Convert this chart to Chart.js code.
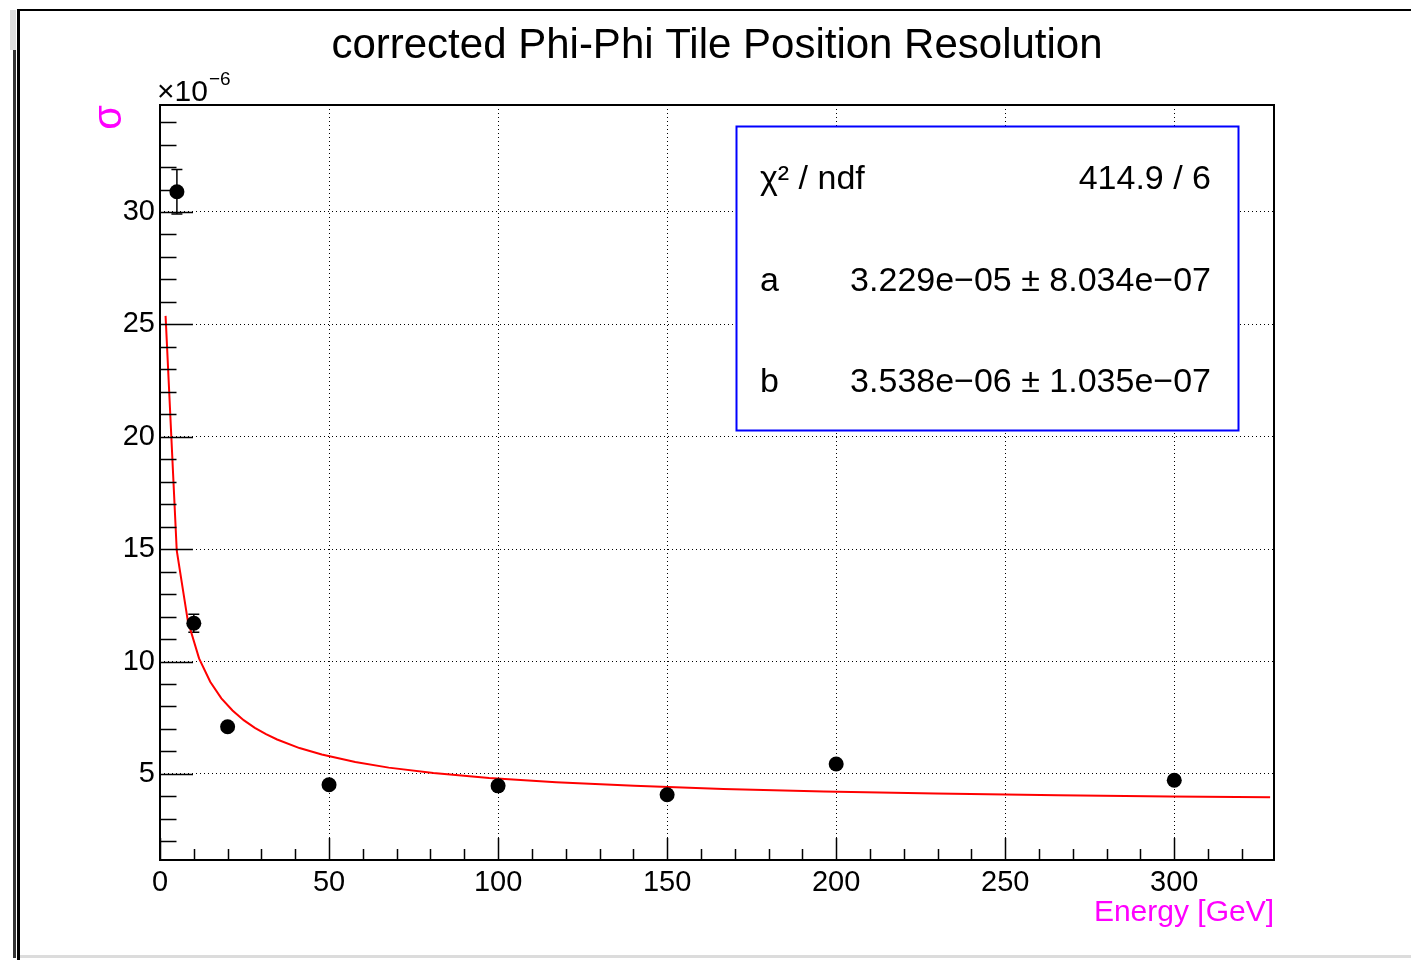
<!DOCTYPE html>
<html><head><meta charset="utf-8">
<script src="https://cdn.jsdelivr.net/npm/chart.js@4.4.1/dist/chart.umd.min.js"></script>
<style>html,body{margin:0;padding:0;background:#fff;overflow:hidden}</style>
</head><body>
<canvas id="c" width="1411" height="960" style="display:block;width:1411px;height:960px"></canvas>
<script>
// ---- data (sigma in units of 1e-6) ----
const energies = [5, 10, 20, 50, 100, 150, 200, 300];
const sigmaValues = [30.9, 11.7, 7.1, 4.52, 4.47, 4.07, 5.44, 4.72];
const sigmaErrors = [0.99, 0.4, 0.12, 0.1, 0.1, 0.1, 0.12, 0.1];
const fitEnergies = [1.65, 4.95, 8.25, 11.55, 14.85, 18.15, 21.45, 24.75, 28.05, 31.35, 34.65, 41.25, 47.85, 57.75, 67.65, 80.85, 97.35, 117.15, 140.25, 166.65, 196.35, 229.35, 265.65, 298.65, 328.35];
const fitValues = [25.38, 14.94, 11.79, 10.14, 9.10, 8.36, 7.82, 7.39, 7.05, 6.77, 6.53, 6.15, 5.86, 5.53, 5.28, 5.04, 4.82, 4.63, 4.47, 4.33, 4.22, 4.13, 4.05, 4.00, 3.96];
const xTickValues = [0, 50, 100, 150, 200, 250, 300];
const yTickValues = [5, 10, 15, 20, 25, 30];
const statsLabels = ['\u03c7\u00b2 / ndf', 'a', 'b'];
const statsValues = ['414.9 / 6', '3.229e\u221205 \u00b1 8.034e\u221207', '3.538e\u221206 \u00b1 1.035e\u221207'];
const titleText = 'corrected Phi-Phi Tile Position Resolution';
const xTitle = 'Energy [GeV]';
const yTitle = '\u03c3';
const yMultiplier = '\u00d710';
const yExponent = '\u22126';

const FONT = "'Liberation Sans', Arial, Helvetica, sans-serif";
const X_MIN = 0, X_MAX = 329.5, Y_MIN = 1.17, Y_MAX = 34.76;
const X_MINOR_STEP = 10, Y_MINOR_STEP = 1;

const decor = {
  id: 'decor',
  beforeDraw(chart) {
    const c = chart.ctx;
    c.save();
    c.fillStyle = '#fff';
    c.fillRect(0, 0, chart.width, chart.height);
    // outer window frame
    c.fillStyle = '#dcdcdc';
    c.fillRect(10, 10, 6, 40);
    c.fillRect(17, 955, 1394, 3);
    c.fillStyle = '#333';
    c.fillRect(13, 50, 3, 908);
    c.fillStyle = '#000';
    c.fillRect(17, 9, 1394, 2);
    c.fillRect(17, 9, 3, 951);
    c.restore();
  },
  beforeDatasetsDraw(chart) {
    const c = chart.ctx, xs = chart.scales.x, ys = chart.scales.y;
    c.save();
    c.strokeStyle = '#000';
    c.lineWidth = 1.5;
    energies.forEach((e, i) => {
      const px = xs.getPixelForValue(e);
      const top = ys.getPixelForValue(sigmaValues[i] + sigmaErrors[i]);
      const bot = ys.getPixelForValue(sigmaValues[i] - sigmaErrors[i]);
      c.beginPath();
      c.moveTo(px, top); c.lineTo(px, bot);
      c.moveTo(px - 5.5, top); c.lineTo(px + 5.5, top);
      c.moveTo(px - 5.5, bot); c.lineTo(px + 5.5, bot);
      c.stroke();
    });
    c.restore();
  },
  afterDatasetsDraw(chart) {
    const c = chart.ctx, xs = chart.scales.x, ys = chart.scales.y;
    const a = chart.chartArea;
    c.save();
    // frame
    c.strokeStyle = '#000';
    c.lineWidth = 2;
    c.strokeRect(a.left, a.top, a.right - a.left, a.bottom - a.top);
    // ticks (inside, ROOT style)
    c.lineWidth = 1.5;
    c.beginPath();
    for (let v = X_MIN; v <= X_MAX; v += X_MINOR_STEP) {
      const px = Math.round(xs.getPixelForValue(v)) + 0.5;
      const len = xTickValues.includes(v) ? 22 : 11;
      c.moveTo(px, a.bottom); c.lineTo(px, a.bottom - len);
    }
    for (let v = Math.ceil(Y_MIN); v <= Y_MAX; v += Y_MINOR_STEP) {
      const py = Math.round(ys.getPixelForValue(v)) + 0.5;
      const len = yTickValues.includes(v) ? 33 : 16.5;
      c.moveTo(a.left, py); c.lineTo(a.left + len, py);
    }
    c.stroke();
    // stats box
    const bx = 736.5, by = 126.5, bw = 502, bh = 304;
    c.fillStyle = '#fff';
    c.fillRect(bx, by, bw, bh);
    c.strokeStyle = '#0000ff';
    c.lineWidth = 2;
    c.strokeRect(bx, by, bw, bh);
    c.fillStyle = '#000';
    c.font = '34px ' + FONT;
    c.textBaseline = 'alphabetic';
    const baselines = [189, 291, 392];
    statsLabels.forEach((t, i) => {
      c.textAlign = 'left';
      c.fillText(t, 760, baselines[i]);
      c.textAlign = 'right';
      c.fillText(statsValues[i], 1211, baselines[i]);
    });
    // axis multiplier
    c.textAlign = 'left';
    c.font = '30px ' + FONT;
    c.fillText(yMultiplier, 157, 101);
    const w = c.measureText(yMultiplier).width;
    c.font = '19px ' + FONT;
    c.fillText(yExponent, 157 + w + 1, 85);
    c.restore();
  }
};

new Chart(document.getElementById('c').getContext('2d'), {
  type: 'scatter',
  data: {
    datasets: [
      {
        type: 'line',
        data: fitEnergies.map((x, i) => ({ x, y: fitValues[i] })),
        borderColor: '#ff0000', borderWidth: 2, pointRadius: 0, tension: 0, fill: false, order: 2
      },
      {
        type: 'scatter',
        data: energies.map((x, i) => ({ x, y: sigmaValues[i] })),
        backgroundColor: '#000', borderColor: '#000', borderWidth: 0, pointRadius: 7.5, order: 1
      }
    ]
  },
  options: {
    responsive: false, animation: false, devicePixelRatio: 1,
    layout: { padding: { left: 23, right: 0, top: 0, bottom: 0 } },
    plugins: {
      legend: { display: false }, tooltip: { enabled: false },
      title: {
        display: true, text: titleText, color: '#000',
        font: { family: FONT, size: 42, weight: 'normal' },
        padding: { top: 21, bottom: 33.6 }
      }
    },
    scales: {
      x: {
        type: 'linear', min: X_MIN, max: X_MAX,
        afterFit(s) { s.height = 100; },
        afterBuildTicks(s) { s.ticks = xTickValues.map(v => ({ value: v })); },
        grid: { color: '#000', lineWidth: 1, drawTicks: false },
        border: { display: false, dash: [1, 3] },
        ticks: { color: '#000', font: { family: FONT, size: 29 }, padding: 6, autoSkip: false, maxRotation: 0 },
        title: { display: true, text: xTitle, align: 'end', color: '#ff00ff', font: { family: FONT, size: 30 }, padding: { top: 0, bottom: 29 } }
      },
      y: {
        type: 'linear', min: Y_MIN, max: Y_MAX,
        afterFit(s) { s.width = 137; },
        afterBuildTicks(s) { s.ticks = yTickValues.map(v => ({ value: v })); },
        grid: { color: '#000', lineWidth: 1, drawTicks: false },
        border: { display: false, dash: [1, 3] },
        ticks: { color: '#000', font: { family: FONT, size: 29 }, padding: 5, autoSkip: false },
        title: { display: true, text: yTitle, align: 'end', color: '#ff00ff', font: { family: FONT, size: 40 }, padding: { top: 63, bottom: 0 } }
      },
      yRight: {
        type: 'linear', position: 'right', min: 0, max: 1,
        afterFit(s) { s.width = 137; },
        grid: { display: false, drawTicks: false },
        border: { display: false },
        ticks: { display: false }
      }
    }
  },
  plugins: [decor]
});
</script>
</body></html>
